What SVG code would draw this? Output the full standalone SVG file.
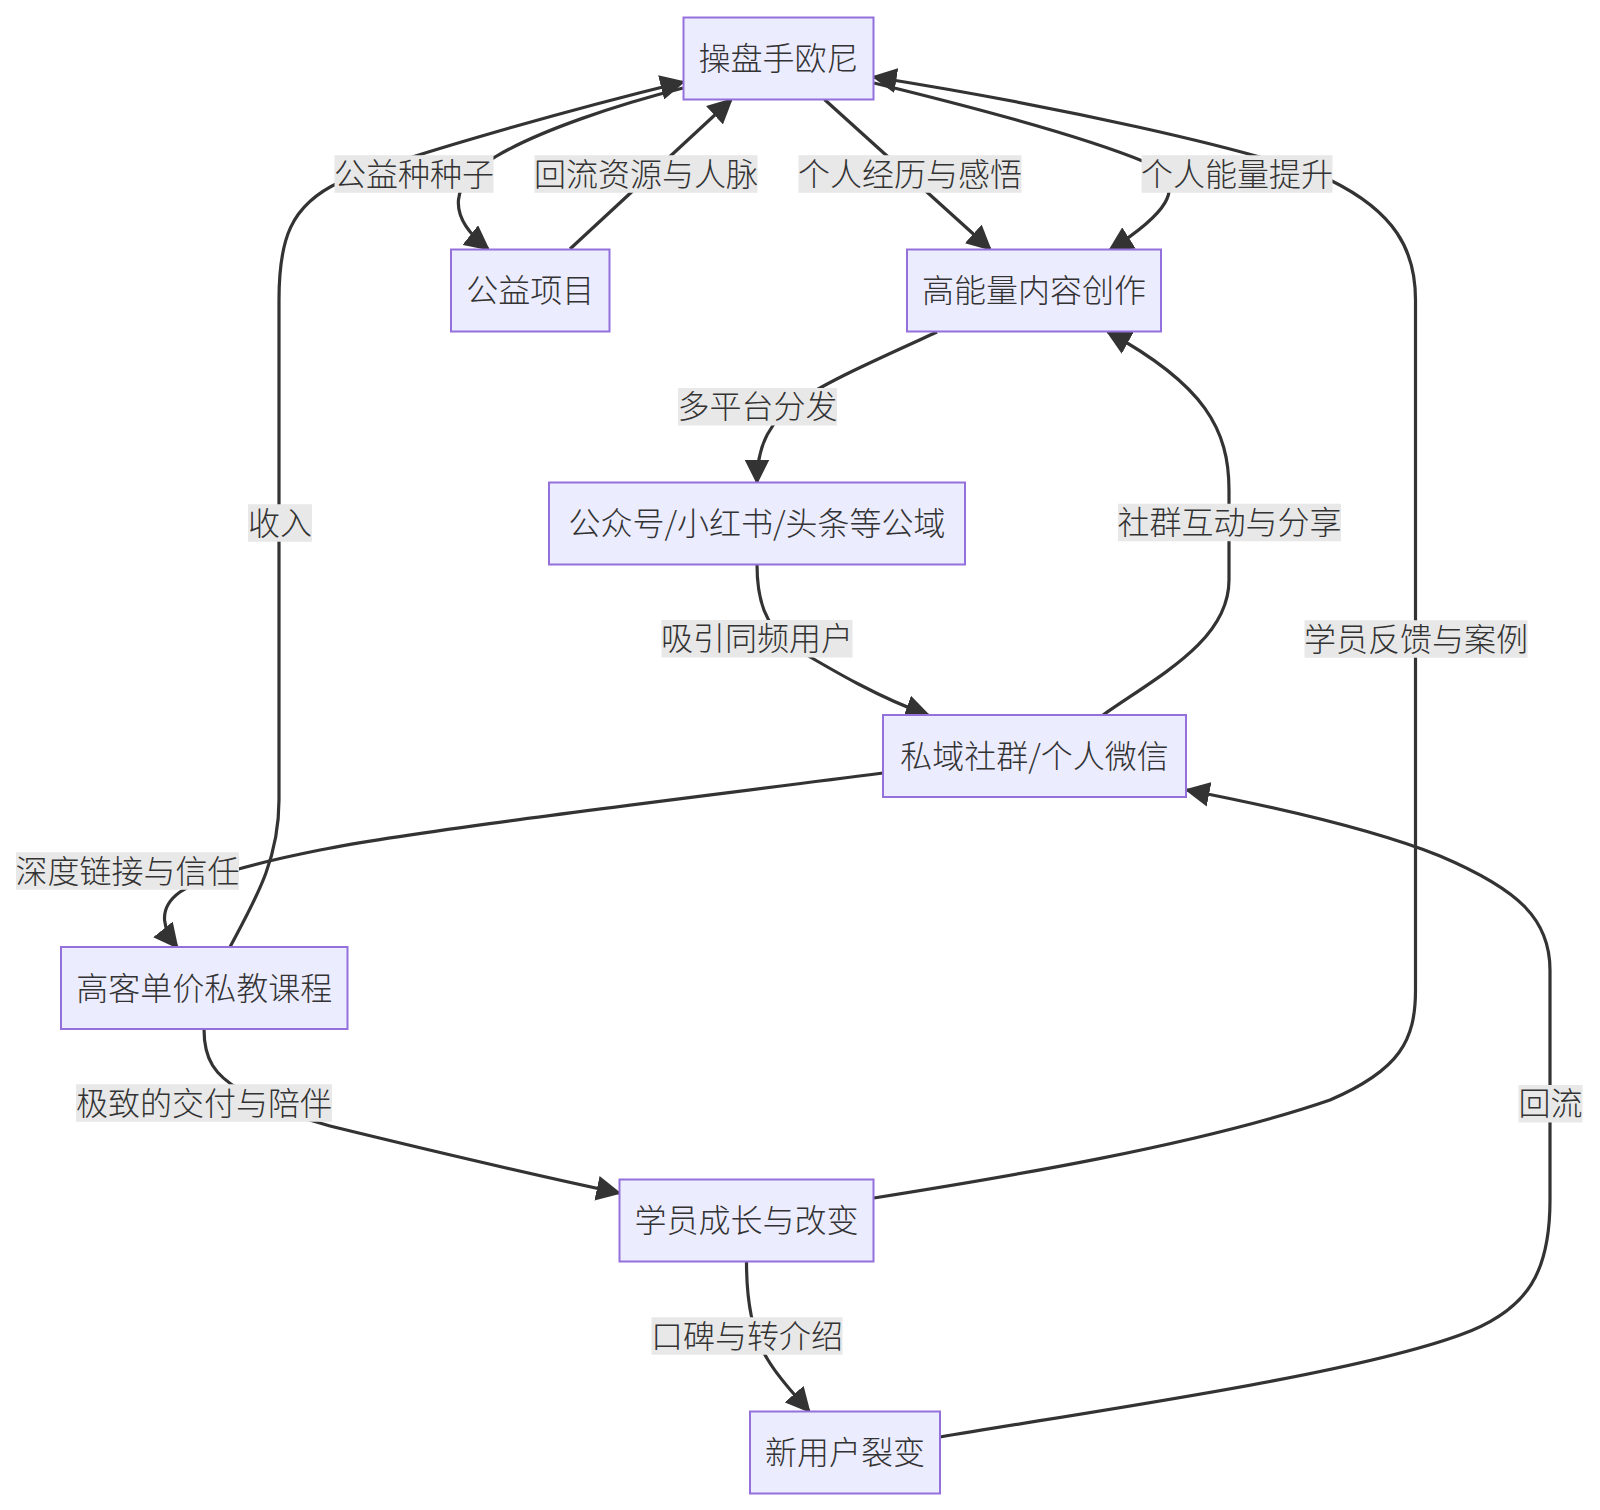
<svg xmlns="http://www.w3.org/2000/svg" width="1600" height="1510" viewBox="0 0 1600 1510">
<style>
.node rect{fill:#ECECFF;stroke:#9370DB;stroke-width:2}
.node text,.lbl text{font-family:"Noto Sans CJK SC","Noto Sans",sans-serif;font-size:32px;font-weight:300;fill:#333333;text-anchor:middle;dominant-baseline:central}
.edges path{fill:none;stroke:#333333;stroke-width:3.2;marker-end:url(#arrow)}
.lbl rect{fill:#e8e8e8}
</style>
<defs>
<marker id="arrow" viewBox="0 0 10 10" refX="9" refY="5" markerUnits="userSpaceOnUse" markerWidth="25" markerHeight="25" orient="auto">
<path d="M0,0 L10,5 L0,10 z" fill="#333333"/>
</marker>
</defs>
<rect width="1600" height="1510" fill="#ffffff"/>
<g id="connectors" class="edges">
<path id="e-F-A" d="M230,947 C255,900 279,860 279,800 L279,300 C279,240 290,205 340,182 C400,158 560,112 683,82"/>
<path id="e-A-B" d="M683,88 C620,104 540,130 495,157 C450,182 445,215 488,249"/>
<path id="e-B-A" d="M570,249 L731,100"/>
<path id="e-A-C1" d="M824.5,99.5 L990,249"/>
<path id="e-A-C2" d="M874,83 C960,104 1080,135 1145,162 C1195,185 1160,218 1110,250"/>
<path id="e-G-A" d="M874,1198 C1000,1178 1200,1145 1330,1100 C1400,1070 1415.5,1040 1415.5,990 L1415.5,300 C1415.5,250 1395,212 1330,180 C1250,148 1050,105 874,77"/>
<path id="e-C-D" d="M937,332 C880,358 830,380 800,400 C770,420 757,445 757,482"/>
<path id="e-D-E" d="M757,564 C757,600 765,625 790,645 C835,672 880,698 928,715"/>
<path id="e-E-C" d="M1103,715 C1160,675 1229,640 1229,580 L1229,490 C1229,430 1205,385 1108,332"/>
<path id="e-E-F" d="M883,773 C650,803 420,830 320,850 C250,864 200,878 180,892 C155,910 165,932 177,947"/>
<path id="e-F-G" d="M204,1029 C204,1060 215,1075 240,1090 C270,1108 300,1118 330,1126 C420,1148 520,1172 619,1193"/>
<path id="e-G-H" d="M746.5,1262 C746.5,1300 752,1335 768,1360 C780,1380 795,1395 809,1411"/>
<path id="e-H-E" d="M940,1437 C1100,1410 1350,1375 1460,1335 C1530,1310 1550,1270 1550,1200 L1550,970 C1550,920 1520,890 1440,856 C1380,832 1280,808 1187,790"/>
</g>
<g id="edge-labels">
<g class="lbl"><rect x="334.5" y="155.25" width="159" height="37.5"/><text x="414" y="171.5">公益种种子</text></g>
<g class="lbl"><rect x="534.5" y="155.25" width="223" height="37.5"/><text x="646" y="171.5">回流资源与人脉</text></g>
<g class="lbl"><rect x="798.5" y="155.25" width="223" height="37.5"/><text x="910" y="171.5">个人经历与感悟</text></g>
<g class="lbl"><rect x="1141.5" y="155.25" width="191" height="37.5"/><text x="1237" y="171.5">个人能量提升</text></g>
<g class="lbl"><rect x="678" y="388" width="159" height="37.5"/><text x="757.5" y="404.25">多平台分发</text></g>
<g class="lbl"><rect x="1118" y="503.75" width="223" height="37.5"/><text x="1229.5" y="520">社群互动与分享</text></g>
<g class="lbl"><rect x="661.5" y="620" width="191" height="37.5"/><text x="757" y="636.25">吸引同频用户</text></g>
<g class="lbl"><rect x="1304.5" y="620.25" width="223" height="37.5"/><text x="1416" y="636.5">学员反馈与案例</text></g>
<g class="lbl"><rect x="248" y="504.25" width="64" height="37.5"/><text x="280" y="520.5">收入</text></g>
<g class="lbl"><rect x="16" y="852.25" width="223" height="37.5"/><text x="127.5" y="868.5">深度链接与信任</text></g>
<g class="lbl"><rect x="76" y="1084.25" width="256" height="37.5"/><text x="204" y="1100.5">极致的交付与陪伴</text></g>
<g class="lbl"><rect x="651.5" y="1317.25" width="191" height="37.5"/><text x="747" y="1333.5">口碑与转介绍</text></g>
<g class="lbl"><rect x="1518.5" y="1085" width="64" height="37.5"/><text x="1550.5" y="1101.25">回流</text></g>
</g>
<g id="node-A" class="node"><rect x="683.5" y="17.5" width="190" height="82"/><text x="778.5" y="56">操盘手欧尼</text></g>
<g id="node-B" class="node"><rect x="451" y="249.5" width="158.5" height="82"/><text x="530.25" y="288">公益项目</text></g>
<g id="node-C" class="node"><rect x="907" y="249.5" width="254" height="82"/><text x="1034" y="288">高能量内容创作</text></g>
<g id="node-D" class="node"><rect x="549" y="482.5" width="416" height="82"/><text x="757" y="521">公众号/小红书/头条等公域</text></g>
<g id="node-E" class="node"><rect x="883" y="715" width="303" height="82"/><text x="1034.5" y="753.5">私域社群/个人微信</text></g>
<g id="node-F" class="node"><rect x="61" y="947" width="286.5" height="82"/><text x="204.25" y="985.5">高客单价私教课程</text></g>
<g id="node-G" class="node"><rect x="619.5" y="1179.5" width="254" height="82"/><text x="746.5" y="1218">学员成长与改变</text></g>
<g id="node-H" class="node"><rect x="750" y="1411.5" width="190" height="82"/><text x="845" y="1450">新用户裂变</text></g>
</svg>
